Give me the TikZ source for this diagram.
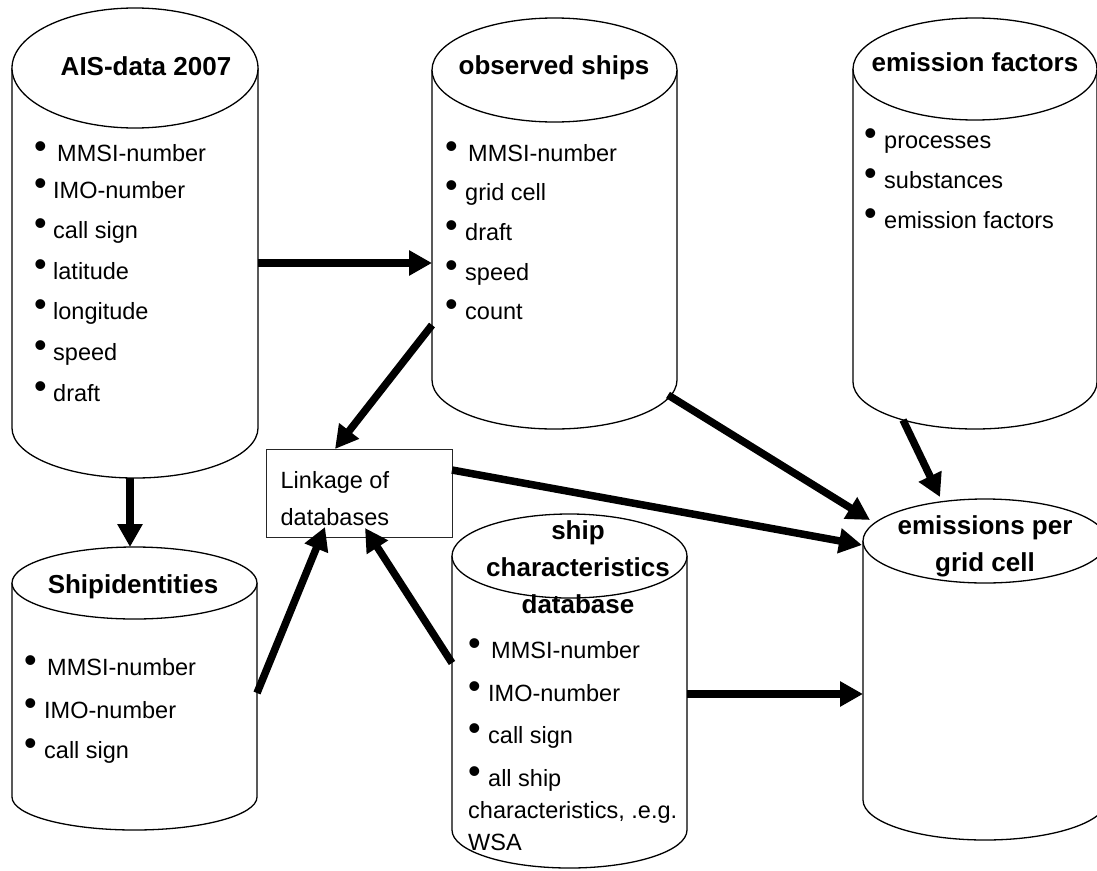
\documentclass[tikz,border=0pt]{standalone}
\usepackage{fontspec}
\setmainfont{Liberation Sans}
\usetikzlibrary{arrows.meta}
\newcommand\bmark{{\fontsize{36pt}{36pt}\selectfont\raisebox{3pt}{•}}}
\newcommand\myitem[2]{\makebox[#1][l]{\bmark}#2}
\newcommand\mycyl[6]{% cx rx ty ry by ry2
  \path[cylline] (#1-#2,#3) -- (#1-#2,#5) arc[start angle=180,end angle=0,x radius=#2,y radius=#6] -- (#1+#2,#3);
  \path[cylline] (#1,#3) ellipse[x radius=#2,y radius=#4];
}
\tikzset{
  cylline/.style={draw=black, line width=1.3pt, fill=white},
  ttl/.style={font=\fontsize{26pt}{37pt}\selectfont\bfseries, align=center, inner sep=0pt},
  itm/.style={font=\fontsize{23.5pt}{32pt}\selectfont, anchor=base west, inner sep=0pt},
  arr/.style={line width=7.5pt, -{Triangle[length=23pt,width=24pt]}},
  boxnode/.style={draw=black!85, line width=1.3pt, font=\fontsize{23.5pt}{37pt}\selectfont, align=flush left, text width=158pt, inner xsep=14pt, inner ysep=0pt, minimum width=186pt, minimum height=88pt, anchor=north west},
}
\begin{document}
\begin{tikzpicture}[x=1pt,y=-1pt]
\useasboundingbox (0,0) rectangle (1097,870);
\fill[white] (0,0) rectangle (1097,870);
\clip (0,0) rectangle (1097,870);

% cylinders
\mycyl{135}{123}{68}{60}{428}{50}
\mycyl{554.5}{122.5}{70}{52}{380}{49}
\mycyl{975}{122}{69}{51}{382}{47}
\mycyl{134.5}{122.5}{583}{36}{797}{33}
\mycyl{569.5}{117.5}{556}{42}{830}{38}
\mycyl{985}{122}{541}{42}{800}{40}

% titles
\node[ttl] (aist) at (146,66) {AIS-data 2007};
\node[ttl] (obst) at (554,68) {observed ships};
\node[ttl] (eft) at (975,62) {emission factors};
\node[ttl] (sidt) at (133,587) {Shipidentities};
\node[ttl] (sct) at (578,567) {ship\\characteristics\\database};
\node[ttl] (emt) at (985,546.5) {emissions per\\grid cell};

% AIS items
\node[itm] (a1) at (34,161) {\myitem{23pt}{MMSI-number}};
\node[itm] (a2) at (34,198) {\myitem{19pt}{IMO-number}};
\node[itm] (a3) at (34,238) {\myitem{19pt}{call sign}};
\node[itm] (a4) at (34,279) {\myitem{19pt}{latitude}};
\node[itm] (a5) at (34,319) {\myitem{19pt}{longitude}};
\node[itm] (a6) at (34,360) {\myitem{19pt}{speed}};
\node[itm] (a7) at (34,401) {\myitem{19pt}{draft}};

% observed items
\node[itm] (o1) at (445,161) {\myitem{23pt}{MMSI-number}};
\node[itm] (o2) at (445,200) {\myitem{20pt}{grid cell}};
\node[itm] (o3) at (445,240) {\myitem{20pt}{draft}};
\node[itm] (o4) at (445,280) {\myitem{20pt}{speed}};
\node[itm] (o5) at (445,319) {\myitem{20pt}{count}};

% emission factor items
\node[itm] (e1) at (864,148) {\myitem{20pt}{processes}};
\node[itm] (e2) at (864,188) {\myitem{20pt}{substances}};
\node[itm] (e3) at (864,228) {\myitem{20pt}{emission factors}};

% shipidentities items
\node[itm] (s1) at (24,675) {\myitem{23pt}{MMSI-number}};
\node[itm] (s2) at (24,718) {\myitem{20pt}{IMO-number}};
\node[itm] (s3) at (24,758) {\myitem{20pt}{call sign}};

% ship characteristics items
\node[itm] (c1) at (468,658) {\myitem{23pt}{MMSI-number}};
\node[itm] (c2) at (468,701) {\myitem{20pt}{IMO-number}};
\node[itm] (c3) at (468,743) {\myitem{20pt}{call sign}};
\node[itm] (c4) at (468,786) {\myitem{20pt}{all ship}};
\node[itm] (c5) at (468,818) {characteristics, .e.g.};
\node[itm] (c6) at (468,850) {WSA};

% linkage box
\node[boxnode] (link) at (266,449) {\rule{0pt}{27pt}Linkage of\\databases};

% connector end points
\coordinate (aisR) at (258,263);
\coordinate (obsL) at (432,263);
\coordinate (obsL2) at (432,325);
\coordinate (linkT) at (335,449);
\coordinate (aisB) at (130,478);
\coordinate (sidT) at (130,547);
\coordinate (sidR) at (257,693);
\coordinate (linkB1) at (325,527);
\coordinate (scL) at (452,663);
\coordinate (linkB2) at (365,528);
\coordinate (linkR) at (452,470);
\coordinate (emL1) at (862,545);
\coordinate (obsB) at (668,395);
\coordinate (emL2) at (870,520);
\coordinate (efB) at (903,420);
\coordinate (emT) at (940,497);
\coordinate (scR) at (687,694);
\coordinate (emL3) at (863,694);

% connectors
\draw[arr] (aisR) -- (obsL);
\draw[arr] (obsL2) -- (linkT);
\draw[arr] (aisB) -- (sidT);
\draw[arr] (sidR) -- (linkB1);
\draw[arr] (scL) -- (linkB2);
\draw[arr] (linkR) -- (emL1);
\draw[arr] (obsB) -- (emL2);
\draw[arr] (efB) -- (emT);
\draw[arr] (scR) -- (emL3);
\end{tikzpicture}
\end{document}
